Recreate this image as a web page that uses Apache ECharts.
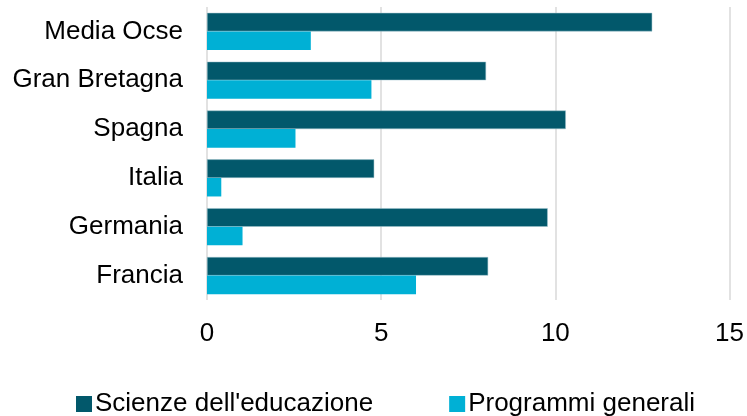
<!DOCTYPE html>
<html>
<head>
<meta charset="utf-8">
<script src="https://cdn.jsdelivr.net/npm/echarts@6/dist/echarts.min.js"></script>
<style>
    html, body { margin: 0; padding: 0; background: #fff; }
    #chart { width: 747px; height: 416px; }
</style>
</head>
<body>
<div id="chart"></div>
<script>
// dati (dal basso verso l'alto)
const categories = ['Francia', 'Germania', 'Italia', 'Spagna', 'Gran Bretagna', 'Media Ocse'];
const scienzeEducazione = [8.07, 9.78, 4.8, 10.3, 8.01, 12.78];
const programmiGenerali = [6.0, 1.02, 0.41, 2.54, 4.72, 2.98];
const xTicks = [0, 5, 10, 15];

const chart = echarts.init(document.getElementById('chart'));

const option = {
    backgroundColor: '#fff',
    animation: false,
    textStyle: { fontFamily: 'Liberation Sans, Arial, sans-serif' },
    grid: {
        top: 7,
        left: 207,
        right: 17,
        bottom: 116
    },
    legend: {
        top: 391,
        left: 76,
        padding: 0,
        itemWidth: 16,
        itemHeight: 16,
        itemGap: 76,
        icon: 'rect',
        itemStyle: { borderWidth: 0 },
        textStyle: { fontSize: 26, lineHeight: 26, color: '#000', padding: [0, 0, 0, -2] },
        data: ["Scienze dell'educazione", 'Programmi generali']
    },
    xAxis: {
        type: 'value',
        min: xTicks[0],
        max: xTicks[xTicks.length - 1],
        interval: 5,
        axisLine: { show: false },
        axisTick: { show: false },
        axisLabel: { fontSize: 26, color: '#000', margin: 21 },
        splitLine: { lineStyle: { color: '#d9d9d9', width: 1.5 } }
    },
    yAxis: {
        type: 'category',
        data: categories,
        axisLine: { show: false },
        axisTick: { show: false },
        axisLabel: { fontSize: 26, color: '#000', margin: 24 }
    },
    series: [
        {
            name: "Scienze dell'educazione",
            type: 'bar',
            data: scienzeEducazione,
            barGap: '0%',
            barCategoryGap: '24%',
            itemStyle: { color: '#02586b', borderColor: '#9fc3cc', borderWidth: 0.5 }
        },
        {
            name: 'Programmi generali',
            type: 'bar',
            data: programmiGenerali,
            itemStyle: { color: '#00b0d5' }
        }
    ]
};

chart.setOption(option);
</script>
</body>
</html>
